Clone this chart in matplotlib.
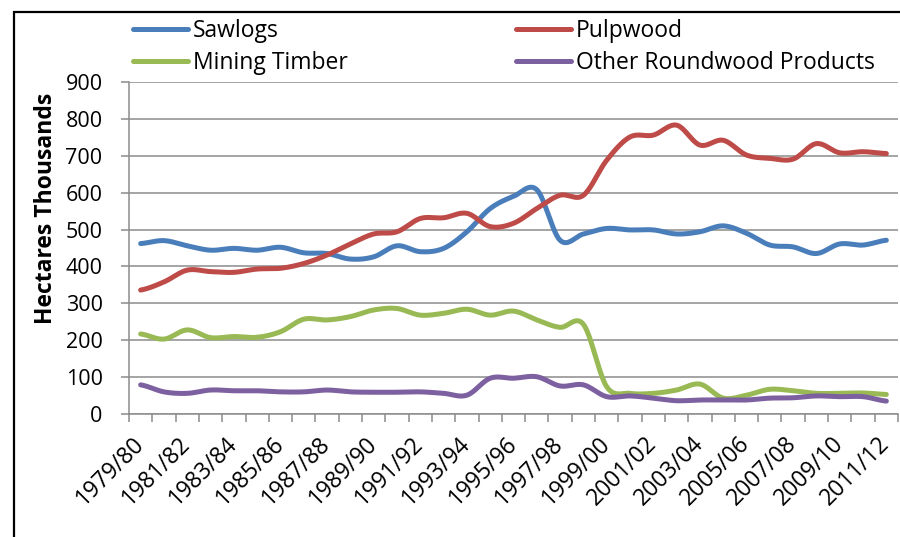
import matplotlib
matplotlib.use("Agg")
import matplotlib.pyplot as plt
import matplotlib.patches as mpatches
import numpy as np

# ── Data (thousand hectares) ─────────────────────────────────────────────────
years = [f"{y}/{str(y + 1)[-2:]}" for y in range(1979, 2012)]

sawlogs = [462, 470, 456, 444, 449, 444, 452, 437, 435, 420, 426,
           456, 440, 449, 494, 557, 590, 608, 471, 488, 503, 499,
           499, 488, 494, 510, 490, 458, 453, 435, 461, 458, 471]
pulpwood = [336, 358, 390, 386, 384, 393, 395, 408, 431, 461, 488,
            494, 530, 532, 544, 508, 517, 557, 593, 593, 688, 751,
            756, 783, 729, 742, 702, 693, 691, 733, 708, 711, 706]
mining = [217, 203, 228, 207, 210, 208, 223, 257, 255, 264, 282,
          286, 268, 273, 284, 268, 279, 255, 235, 243, 74, 56,
          56, 65, 81, 43, 51, 67, 63, 56, 56, 57, 53]
other = [79, 60, 56, 65, 63, 63, 60, 60, 65, 60, 59,
         59, 60, 56, 51, 97, 97, 101, 76, 79, 47, 49,
         43, 36, 38, 38, 38, 43, 44, 49, 47, 47, 35]

series = [("Sawlogs", sawlogs, "#4A7EBB"),
          ("Pulpwood", pulpwood, "#BE4B48"),
          ("Mining Timber", mining, "#98B954"),
          ("Other Roundwood Products", other, "#7D60A0")]

FONT = "Open Sans"
GRID = "#8c8c8c"


def _smooth(y, steps=20):
    """Excel-style smoothed line (Catmull-Rom through every point)."""
    y = np.asarray(y, dtype=float)
    x = np.arange(len(y), dtype=float)
    xs, ys = [], []
    for i in range(len(y) - 1):
        p0 = y[i - 1] if i > 0 else y[i]
        p3 = y[i + 2] if i + 2 < len(y) else y[i + 1]
        p1, p2 = y[i], y[i + 1]
        t = np.linspace(0, 1, steps, endpoint=False)
        seg = 0.5 * ((2 * p1) + (-p0 + p2) * t
                     + (2 * p0 - 5 * p1 + 4 * p2 - p3) * t ** 2
                     + (-p0 + 3 * p1 - 3 * p2 + p3) * t ** 3)
        xs.append(x[i] + t)
        ys.append(seg)
    xs.append([x[-1]])
    ys.append([y[-1]])
    return np.concatenate(xs), np.concatenate(ys)


fig = plt.figure(figsize=(9, 5.37), dpi=100)
ax = fig.add_axes([129 / 900, 1 - 414 / 537, 769 / 900, 332 / 537])

handles = {}
for name, vals, col in series:
    sx, sy = _smooth(vals)
    ax.plot(sx, sy, color=col, linewidth=3.6, solid_capstyle="round", zorder=3)
    handles[name] = plt.Line2D([], [], color=col, linewidth=3.6,
                               solid_capstyle="round", label=name)

n = len(years)
ax.set_xlim(-0.5, n - 0.5)
ax.set_ylim(0, 900)
ax.set_yticks(range(0, 901, 100))
ax.grid(True, axis="y", color=GRID, linewidth=1.1, zorder=0)

ax.set_xticks(np.arange(0, n, 2))
ax.set_xticklabels(years[::2], rotation=45, ha="right", va="center",
                   rotation_mode="anchor", fontsize=16.5, family=FONT)
ax.set_xticks(np.arange(-0.5, n, 1), minor=True)
ax.tick_params(axis="x", which="major", length=0, pad=19)
ax.tick_params(axis="x", which="minor", length=6, color=GRID, width=1.1)
ax.tick_params(axis="y", length=6, color=GRID, width=1.1, pad=13)
for lb in ax.get_yticklabels():
    lb.set_fontsize(15.5)
    lb.set_family(FONT)

for side in ("top", "right"):
    ax.spines[side].set_visible(False)
for side in ("left", "bottom"):
    ax.spines[side].set_color(GRID)
    ax.spines[side].set_linewidth(1.1)

ax.set_ylabel("Hectares Thousands", fontsize=16.5, fontweight="bold",
              family=FONT)
ax.yaxis.set_label_coords(-0.092, 0.62)

# two legend columns, placed separately like Excel's layout
leg_kw = dict(loc="upper left", frameon=False, borderpad=0,
              borderaxespad=0, prop={"family": FONT, "size": 16.5},
              handlelength=2.4, handletextpad=0.2, labelspacing=0.36)
leg1 = fig.legend(handles=[handles["Sawlogs"], handles["Mining Timber"]],
                  bbox_to_anchor=(133 / 900, 1 - 19 / 537), **leg_kw)
leg2 = fig.legend(handles=[handles["Pulpwood"],
                           handles["Other Roundwood Products"]],
                  bbox_to_anchor=(516 / 900, 1 - 19 / 537), **leg_kw)

fig.patches.append(mpatches.Rectangle((14 / 900, -0.01), 0.99, 1.01 - 12 / 537,
                                      transform=fig.transFigure, fill=False,
                                      edgecolor="black", linewidth=1.6))

fig.savefig("out.png", dpi=100)
